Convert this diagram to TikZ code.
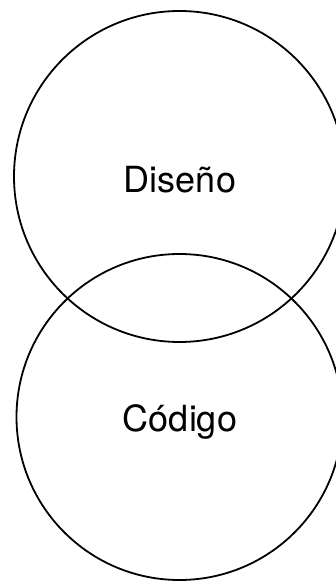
\documentclass[tikz,border=0pt]{standalone}
\usepackage{fontspec}
\setmainfont{TeX Gyre Heros}
\begin{document}
\begin{tikzpicture}[x=1pt,y=1pt,
  ring/.style={circle,draw=black,line width=1.8pt,inner sep=0pt},
  lbl/.style={anchor=base,inner sep=0pt,font=\fontsize{36}{40}\selectfont}]
\useasboundingbox (0,0) rectangle (336,581);
\clip (0,0) rectangle (336,581);
\node[ring,minimum size=331pt] (top) at (179.5,404.5) {};
\node[ring,minimum size=326pt] (bot) at (179.5,164) {};
\node[lbl] (t1) at (180,388) {Diseño};
\node[lbl] (t2) at (180,149) {Código};
\end{tikzpicture}
\end{document}
